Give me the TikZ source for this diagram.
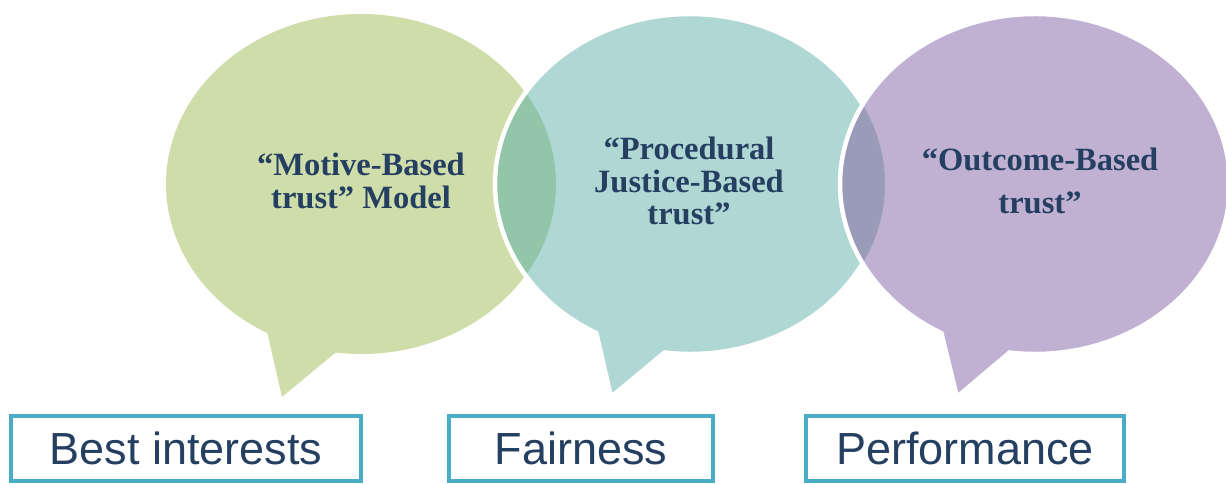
\documentclass[tikz,border=0pt]{standalone}
\usepackage{fontspec}
\setmainfont{Liberation Serif}
\newfontfamily\boxfont{Liberation Sans}
\usetikzlibrary{positioning}

\definecolor{motivefill}{HTML}{CFDDAB}
\definecolor{justicefill}{HTML}{AFD7D3}
\definecolor{outcomefill}{HTML}{C0B1D2}
\definecolor{lensone}{HTML}{93C5A9}
\definecolor{lenstwo}{HTML}{999BB9}
\definecolor{navytext}{HTML}{243F60}
\definecolor{boxframe}{HTML}{4BACC6}

\begin{document}
\begin{tikzpicture}[
  x=1pt,y=1pt,
  bubtext/.style={align=center,text=navytext,inner sep=0pt,
    font=\bfseries\fontsize{32.5}{32.5}\selectfont},
  rim/.style={draw=white,line width=4.5pt},
  tagbox/.style={draw=boxframe,line width=4pt,fill=white,inner sep=0pt,
    minimum height=65pt,text=navytext,font=\boxfont\fontsize{45}{45}\selectfont},
]
\useasboundingbox (0,0) rectangle (1226,483);
\clip (0,0) rectangle (1226,483);

% speech bubbles, left to right
\fill[motivefill] (361,299) ++(262.5:195 and 170)
  arc[start angle=262.5,end angle=601.3,x radius=195,y radius=170] -- (282,86) -- cycle;

\fill[justicefill] (690,299) ++(262.5:195 and 170)
  arc[start angle=262.5,end angle=601.3,x radius=195,y radius=170] -- (611,86) -- cycle;
% overlap of the first two bubbles
\begin{scope}
  \clip (690,299) ellipse[x radius=195,y radius=170];
  \fill[lensone] (361,299) ellipse[x radius=195,y radius=170];
\end{scope}
\draw[rim] (690,299) ++(262.5:195 and 170)
  arc[start angle=262.5,end angle=601.3,x radius=195,y radius=170] -- (611,86) -- cycle;

\fill[outcomefill] (1035,299) ++(262.5:195 and 170)
  arc[start angle=262.5,end angle=601.3,x radius=195,y radius=170] -- (957,86) -- cycle;
% overlap of the last two bubbles
\begin{scope}
  \clip (1035,299) ellipse[x radius=195,y radius=170];
  \fill[lenstwo] (690,299) ellipse[x radius=195,y radius=170];
\end{scope}
\draw[rim] (1035,299) ++(262.5:195 and 170)
  arc[start angle=262.5,end angle=601.3,x radius=195,y radius=170] -- (957,86) -- cycle;

% bubble texts
\node[bubtext] (motive)     at (361,302)  {“Motive-Based\\trust” Model};
\node[bubtext] (procedural) at (689,302)  {“Procedural\\Justice-Based\\trust”};
\node[bubtext] (outcome)    at (1040,302) {“Outcome-Based\\[10pt]trust”};

% boxes along the bottom
\node[tagbox,minimum width=350pt] (interests)   at (186,34.5) {Best interests};
\node[tagbox,minimum width=264pt] (fairness)    at (581,34.5) {Fairness};
\node[tagbox,minimum width=318pt] (performance) at (965,34.5) {Performance};
\end{tikzpicture}
\end{document}
